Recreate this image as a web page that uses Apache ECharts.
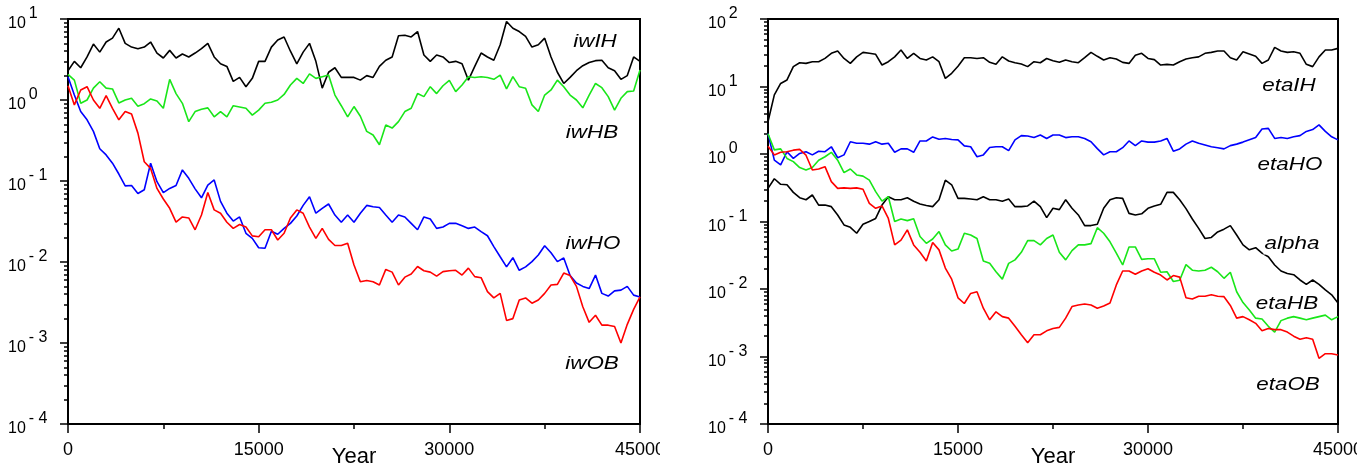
<!DOCTYPE html>
<html><head><meta charset="utf-8">
<script src="https://cdn.jsdelivr.net/npm/echarts@6/dist/echarts.min.js"></script>
<style>
html,body{margin:0;padding:0;background:#fff;width:1370px;height:469px;overflow:hidden;position:relative}
#left{position:absolute;left:0;top:0;width:660px;height:469px}
#right{position:absolute;left:680px;top:0;width:677px;height:469px}
</style></head><body>
<div id="left"></div><div id="right"></div>
<script>
const years = [0,500,1000,1500,2000,2500,3000,3500,4000,4500,5000,5500,6000,6500,7000,7500,8000,8500,9000,9500,
10000,10500,11000,11500,12000,12500,13000,13500,14000,14500,15000,15500,16000,16500,17000,17500,18000,18500,19000,19500,
20000,20500,21000,21500,22000,22500,23000,23500,24000,24500,25000,25500,26000,26500,27000,27500,28000,28500,29000,29500,
30000,30500,31000,31500,32000,32500,33000,33500,34000,34500,35000,35500,36000,36500,37000,37500,38000,38500,39000,39500,
40000,40500,41000,41500,42000,42500,43000,43500,44000,44500,45000];

// Left panel series
const iwIH = [2.3,3.0,2.5,3.4,4.9,3.9,5.2,5.8,7.7,5.0,4.5,4.3,4.5,5.2,3.8,3.3,4.1,3.3,3.7,3.4,3.8,4.3,5.0,3.4,2.8,2.6,1.7,1.9,1.46,1.85,3.0,
3.0,4.5,5.5,6.0,4.0,2.8,3.9,5.0,3.0,1.4,2.2,2.5,1.9,1.9,1.9,1.76,2.0,1.9,2.6,3.1,3.4,6.2,6.3,6.0,7.0,3.6,3.0,3.6,3.4,2.9,
3.0,2.8,1.76,2.6,3.8,3.4,3.1,4.8,9.3,7.7,7.0,6.1,4.5,4.8,5.8,3.4,2.2,1.6,1.9,2.3,2.65,2.9,3.06,3.1,2.5,2.3,1.8,2.0,3.4,3.0];
const iwHB = [2.07,1.76,0.91,1.0,1.4,1.68,1.4,1.37,0.92,1.0,1.05,0.84,0.90,1.03,0.97,0.79,1.8,1.2,0.91,0.54,0.72,0.77,0.80,0.62,0.72,0.62,0.85,0.82,0.79,0.65,0.75,
0.91,0.94,1.0,1.17,1.53,1.85,1.6,2.1,1.85,1.94,2.03,1.15,0.85,0.62,0.83,0.63,0.41,0.37,0.28,0.49,0.45,0.54,0.72,0.79,1.2,1.1,1.46,1.2,1.5,1.75,
1.27,1.53,1.94,1.9,1.94,1.9,1.8,2.03,1.37,1.94,1.46,1.4,0.87,0.72,1.15,1.33,1.76,1.46,1.15,1.0,0.80,1.15,1.6,1.42,1.1,0.75,1.05,1.27,1.29,2.35];
const iwHO = [1.94,1.15,0.72,0.57,0.41,0.25,0.21,0.166,0.122,0.087,0.088,0.07,0.078,0.166,0.098,0.072,0.081,0.088,0.137,0.108,0.08,0.062,0.089,0.103,0.056,0.04,0.032,0.036,0.0226,0.0196,0.015,
0.0148,0.024,0.022,0.026,0.030,0.037,0.05,0.064,0.04,0.046,0.052,0.038,0.031,0.038,0.031,0.04,0.05,0.048,0.047,0.038,0.031,0.038,0.036,0.03,0.025,0.036,0.034,0.026,0.027,0.03,
0.03,0.028,0.026,0.027,0.0237,0.0211,0.0155,0.0116,0.0087,0.0113,0.0079,0.0087,0.0101,0.0122,0.0159,0.013,0.0101,0.0112,0.0068,0.0055,0.005,0.0047,0.0069,0.0041,0.0038,0.0044,0.0045,0.005,0.0039,0.0037];
const iwOB = [1.5,0.87,1.33,1.46,1.0,0.79,1.13,0.79,0.57,0.72,0.67,0.39,0.173,0.143,0.081,0.06,0.046,0.031,0.036,0.035,0.025,0.038,0.072,0.044,0.04,0.031,0.026,0.029,0.027,0.021,0.0205,
0.025,0.025,0.0187,0.0226,0.035,0.044,0.04,0.027,0.0196,0.026,0.019,0.016,0.016,0.017,0.0092,0.0057,0.0059,0.0057,0.0052,0.0081,0.0075,0.0052,0.0065,0.0071,0.0088,0.0078,0.0075,0.0067,0.0076,0.0078,
0.0079,0.0069,0.0084,0.0066,0.0064,0.0043,0.0036,0.0041,0.0019,0.002,0.0034,0.0036,0.0031,0.0034,0.0041,0.0052,0.0053,0.0073,0.0068,0.005,0.0028,0.0018,0.0022,0.00166,0.00166,0.0016,0.001,0.0017,0.0026,0.0037];

// Right panel series
const etaIH = [3.0,7.5,11.1,12.5,19.7,22.5,22,23.3,23.3,26.1,31,33.6,26,22,27.5,32,31,30,20.8,23.3,27.5,34.7,26,31,26,24.7,27.5,23.3,13.2,15.7,20,
26.7,26.7,26,26.7,22.8,21.3,27.5,23.9,22.5,21.5,19.7,23.3,22.5,26,24,22.8,24.7,23.3,22.5,26.7,32,28,24.7,26.7,25.5,22.8,22,29,31,26,
25,20.8,21.3,20.8,23.3,25.5,26.7,27.5,31,32,33.6,33.6,26.7,24.7,32.8,30.3,28,22,24.7,38,33.6,32,32.8,31,21.3,19.7,27.5,34.7,34.7,36.7];
const etaHO = [2.0,0.81,0.69,1.08,0.86,1.02,1.08,0.97,1.1,1.08,1.28,0.88,0.97,1.52,1.44,1.44,1.4,1.52,1.4,1.44,1.06,1.19,1.19,1.06,1.56,1.56,1.79,1.65,1.7,1.64,1.62,
1.32,1.28,0.91,0.97,1.25,1.28,1.28,1.12,1.62,1.87,1.85,1.75,1.91,1.7,1.91,1.91,1.75,1.8,1.8,1.7,1.52,1.2,0.97,1.08,1.08,1.24,1.56,1.33,1.56,1.5,
1.5,1.56,1.7,1.1,1.19,1.4,1.56,1.44,1.36,1.28,1.24,1.19,1.33,1.4,1.5,1.62,1.75,2.34,2.4,1.7,1.76,1.7,1.8,1.87,2.16,2.3,2.7,2.16,1.8,1.62];
const alpha = [0.31,0.43,0.356,0.35,0.27,0.225,0.21,0.247,0.175,0.175,0.166,0.125,0.089,0.082,0.067,0.091,0.1,0.111,0.175,0.233,0.21,0.21,0.225,0.2,0.182,0.173,0.166,0.21,0.41,0.35,0.22,
0.22,0.215,0.21,0.233,0.21,0.21,0.2,0.215,0.166,0.166,0.17,0.2,0.166,0.114,0.157,0.15,0.21,0.157,0.125,0.087,0.087,0.091,0.157,0.21,0.225,0.22,0.132,0.125,0.13,0.157,
0.17,0.18,0.27,0.27,0.21,0.155,0.109,0.079,0.056,0.058,0.07,0.077,0.087,0.063,0.045,0.038,0.041,0.034,0.030,0.0227,0.0185,0.017,0.0163,0.0136,0.0117,0.0136,0.0117,0.0097,0.0082,0.0062];
const etaHB = [2.0,1.15,1.19,0.86,0.77,0.63,0.58,0.63,0.81,0.91,1.06,0.81,0.53,0.6,0.49,0.47,0.41,0.277,0.2,0.233,0.1,0.109,0.103,0.11,0.06,0.0475,0.055,0.071,0.045,0.0366,0.039,
0.067,0.063,0.056,0.026,0.024,0.018,0.014,0.024,0.027,0.035,0.052,0.052,0.045,0.056,0.063,0.035,0.027,0.037,0.045,0.045,0.047,0.081,0.067,0.05,0.034,0.0227,0.042,0.042,0.0275,0.028,
0.028,0.0177,0.018,0.0129,0.0135,0.023,0.019,0.0185,0.019,0.021,0.018,0.0144,0.0177,0.0091,0.0063,0.0049,0.0037,0.0036,0.0028,0.0023,0.0034,0.0037,0.0039,0.0037,0.0035,0.0037,0.0039,0.0041,0.0035,0.0039];
const etaOB = [1.3,0.97,1.06,1.08,1.14,1.17,0.96,0.58,0.6,0.65,0.39,0.31,0.315,0.31,0.315,0.3,0.186,0.157,0.17,0.111,0.045,0.053,0.075,0.045,0.035,0.026,0.049,0.038,0.0204,0.014,0.0074,
0.0061,0.0086,0.0091,0.0052,0.0035,0.0046,0.0039,0.0037,0.0028,0.0021,0.0016,0.0021,0.0021,0.0024,0.0026,0.0027,0.0037,0.0055,0.0058,0.006,0.0058,0.0052,0.0056,0.0062,0.0115,0.0185,0.0185,0.0165,0.0185,0.02,
0.0177,0.0161,0.0136,0.0158,0.015,0.0074,0.0071,0.0078,0.0078,0.0082,0.0078,0.0077,0.0057,0.0037,0.0039,0.0035,0.0031,0.0024,0.0026,0.0025,0.0025,0.0023,0.002,0.0018,0.0019,0.0018,0.00094,0.0011,0.0011,0.00105];

const xTicks = [0, 15000, 30000, 45000];
const leftLabels = ['iwIH','iwHB','iwHO','iwOB'];
const rightLabels = ['etaIH','etaHO','alpha','etaHB','etaOB'];

const FONT = "'Liberation Sans', Arial, Helvetica, sans-serif";
const GREEN = '#19e619';

// positions (in decades) of the 2..9 minor ticks, for an overlay axis drawn in log10 space
function minorDecadePositions(eMin, eMax) {
  const out = [];
  for (let e = eMin; e < eMax; e++) {
    for (let m = 2; m <= 9; m++) out.push(e + Math.log10(m));
  }
  return out;
}

function buildOption(cfg) {
  const series = cfg.series.map(s => ({
    type: 'line', name: s.name, xAxisIndex: 0, yAxisIndex: 0,
    data: years.map((x, i) => [x, s.data[i]]),
    showSymbol: false, symbol: 'none', clip: true,
    lineStyle: { color: s.color, width: 1.6 },
    itemStyle: { color: s.color },
    emphasis: { disabled: true }
  }));
  const eMin = Math.round(Math.log10(cfg.ymin)), eMax = Math.round(Math.log10(cfg.ymax));
  return {
    animation: false,
    backgroundColor: '#fff',
    textStyle: { fontFamily: FONT },
    grid: { left: cfg.left, top: 19, width: cfg.width, height: 405, show: true, borderColor: '#000', borderWidth: 2,
            backgroundColor: 'transparent', containLabel: false, outerBoundsMode: 'none' },
    xAxis: {
      type: 'value', min: xTicks[0], max: xTicks[xTicks.length - 1], interval: xTicks[1] - xTicks[0],
      axisLine: { show: true, onZero: false, lineStyle: { color: '#000', width: 2 } },
      axisTick: { show: true, length: 9, lineStyle: { color: '#000', width: 1.5 } },
      minorTick: { show: true, splitNumber: 2, length: 5, lineStyle: { color: '#000', width: 1.5 } },
      splitLine: { show: false }, minorSplitLine: { show: false },
      axisLabel: { color: '#000', fontSize: 18, margin: 17, fontFamily: FONT, showMaxLabel: true, showMinLabel: true,
                   formatter: v => String(v) },
      name: 'Year', nameLocation: 'middle', nameGap: 22, nameMoveOverlap: false,
      nameTextStyle: { color: '#000', fontSize: 22, fontFamily: FONT }
    },
    yAxis: [{
      type: 'log', logBase: 10, min: cfg.ymin, max: cfg.ymax, position: 'left',
      axisLine: { show: true, lineStyle: { color: '#000', width: 2 } },
      axisTick: { show: true, length: 8, lineStyle: { color: '#000', width: 1.5 } },
      minorTick: { show: false }, splitLine: { show: false },
      axisLabel: {
        margin: 60, align: 'left', color: '#000',
        formatter: v => {
          const e = Math.round(Math.log10(v));
          const s = e < 0 ? '- ' + (-e) : String(e);
          return '{b|10}{s|' + s + '}';
        },
        rich: {
          b: { fontSize: 16, fontFamily: FONT, color: '#000', lineHeight: 26, verticalAlign: 'bottom', padding: [0, 3, 0, 0] },
          s: { fontSize: 16, fontFamily: FONT, color: '#000', lineHeight: 26, verticalAlign: 'top' }
        }
      }
    }, {
      type: 'value', min: eMin, max: eMax, position: 'left',
      axisLine: { show: false, onZero: false }, splitLine: { show: false }, axisLabel: { show: false },
      axisTick: { show: true, length: 4, customValues: minorDecadePositions(eMin, eMax), lineStyle: { color: '#000', width: 1.5 } }
    }],
    graphic: cfg.labels.map(l => ({
      type: 'text', x: l.x, y: l.y, scaleX: 1.18, z: 100,
      style: { text: l.text, fill: '#000', font: 'italic 19px ' + FONT, align: 'center', verticalAlign: 'middle',
               backgroundColor: '#fff', padding: [1, 1] }
    })),
    series
  };
}

const leftChart = echarts.init(document.getElementById('left'), null, { renderer: 'canvas' });
leftChart.setOption(buildOption({
  left: 68, width: 572, ymin: 1e-4, ymax: 10,
  series: [
    { name: 'iwIH', data: iwIH, color: '#000' },
    { name: 'iwHB', data: iwHB, color: GREEN },
    { name: 'iwHO', data: iwHO, color: '#0000ff' },
    { name: 'iwOB', data: iwOB, color: '#ff0000' }
  ],
  labels: [
    { text: leftLabels[0], x: 595, y: 42 },
    { text: leftLabels[1], x: 592, y: 133 },
    { text: leftLabels[2], x: 593, y: 244 },
    { text: leftLabels[3], x: 592, y: 364 }
  ]
}));

const rightChart = echarts.init(document.getElementById('right'), null, { renderer: 'canvas' });
rightChart.setOption(buildOption({
  left: 88, width: 570, ymin: 1e-4, ymax: 100,
  series: [
    { name: 'etaIH', data: etaIH, color: '#000' },
    { name: 'alpha', data: alpha, color: '#000' },
    { name: 'etaHO', data: etaHO, color: '#0000ff' },
    { name: 'etaHB', data: etaHB, color: GREEN },
    { name: 'etaOB', data: etaOB, color: '#ff0000' }
  ],
  labels: [
    { text: rightLabels[0], x: 609, y: 86 },
    { text: rightLabels[1], x: 610, y: 165 },
    { text: rightLabels[2], x: 612, y: 244 },
    { text: rightLabels[3], x: 607, y: 304 },
    { text: rightLabels[4], x: 608, y: 385 }
  ]
}));
</script>
</body></html>
